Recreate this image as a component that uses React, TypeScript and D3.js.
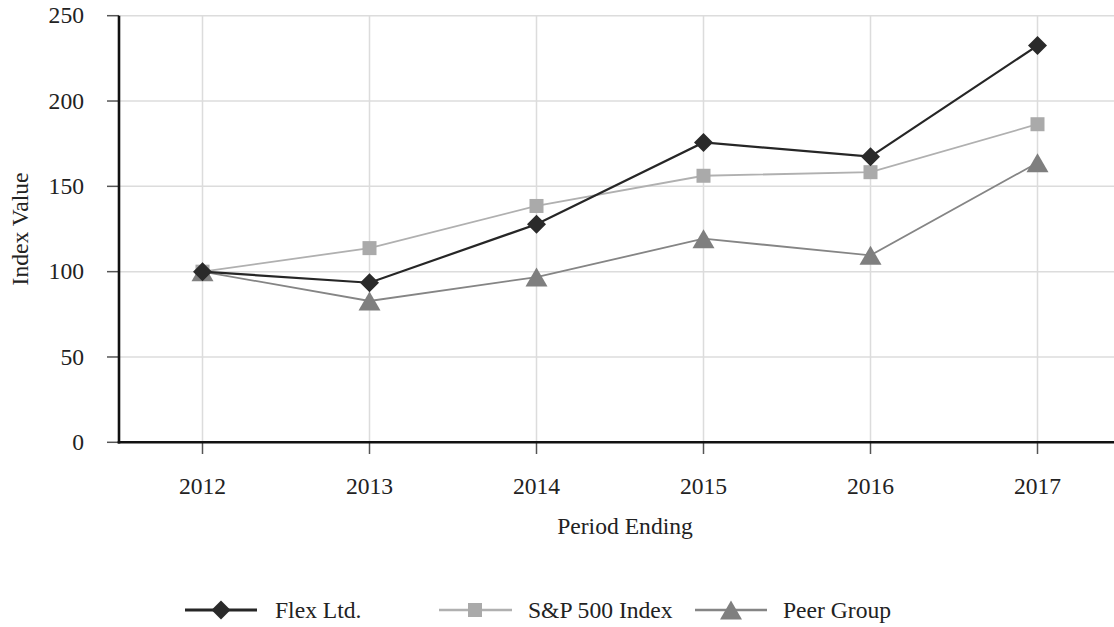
import React from "react";
import * as d3 from "d3";

const years = ["2012", "2013", "2014", "2015", "2016", "2017"];
const flexValues = [100, 93.5, 127.8, 175.7, 167.4, 232.5];
const spValues = [100, 113.8, 138.5, 156.2, 158.3, 186.4];
const peerValues = [100, 82.8, 96.8, 119.3, 109.6, 163.8];
const yTicks = [0, 50, 100, 150, 200, 250];
const seriesNames = ["Flex Ltd.", "S&P 500 Index", "Peer Group"];

const W = 1114;
const H = 627;
const FONT = "Liberation Serif, Times New Roman, DejaVu Serif, serif";
const textStyle: React.CSSProperties = { fontFamily: FONT, fontSize: "23.6px" };

type Shape = "diamond" | "square" | "triangle";

function Marker({ x, y, shape, fill }: { x: number; y: number; shape: Shape; fill: string }) {
  if (shape === "diamond") {
    return <path d="M0,-9.5L9.5,0L0,9.5L-9.5,0Z" transform={`translate(${x},${y})`} fill={fill} />;
  }
  if (shape === "square") {
    return <rect x={x - 7} y={y - 7} width={14} height={14} fill={fill} />;
  }
  return <path d="M0,-9.5L11,9.5L-11,9.5Z" transform={`translate(${x},${y})`} fill={fill} />;
}

export default function App() {
  const left = 119;
  const right = 1121;
  const top = 15.7;
  const bottom = 442.3;

  const x = d3.scalePoint<string>().domain(years).range([left, right]).padding(0.5);
  const y = d3.scaleLinear().domain([0, 250]).range([bottom, top]);

  const series = [
    { name: seriesNames[0], values: flexValues, color: "#262626", markerColor: "#2a2a2a", width: 2.2, shape: "diamond" as Shape },
    { name: seriesNames[1], values: spValues, color: "#b0b0b0", markerColor: "#aaaaaa", width: 1.8, shape: "square" as Shape },
    { name: seriesNames[2], values: peerValues, color: "#858585", markerColor: "#7f7f7f", width: 1.8, shape: "triangle" as Shape },
  ];

  const line = d3
    .line<number>()
    .x((_, i) => x(years[i]) as number)
    .y((d) => y(d));

  const legendItems = [
    { lineX0: 185, lineX1: 257, markerX: 221, textX: 275 },
    { lineX0: 439, lineX1: 512, markerX: 475, textX: 528 },
    { lineX0: 695, lineX1: 767, markerX: 731, textX: 783 },
  ];
  const legendY = 610;

  return (
    <svg
      width={W}
      height={H}
      style={{ position: "absolute", left: 0, top: 0, background: "#fff", fontFamily: FONT }}
    >
      <rect x={0} y={0} width={W} height={H} fill="#fff" />
      {yTicks.map((t) => (
        <line key={"hg" + t} x1={left} x2={W} y1={y(t)} y2={y(t)} stroke="#dcdcdc" strokeWidth={1.5} />
      ))}
      {years.map((yr) => (
        <line key={"vg" + yr} x1={x(yr)} x2={x(yr)} y1={top} y2={bottom} stroke="#dcdcdc" strokeWidth={1.5} />
      ))}
      {yTicks.map((t) => (
        <g key={"yt" + t}>
          <line x1={107} x2={left} y1={y(t)} y2={y(t)} stroke="#555" strokeWidth={1.5} />
          <text x={84} y={y(t)} dy="0.33em" textAnchor="end" style={textStyle} fill="#222">
            {t}
          </text>
        </g>
      ))}
      {years.map((yr) => (
        <g key={"xt" + yr}>
          <line x1={x(yr)} x2={x(yr)} y1={bottom} y2={454} stroke="#555" strokeWidth={1.5} />
          <text x={x(yr)} y={494} textAnchor="middle" style={textStyle} fill="#222">
            {yr}
          </text>
        </g>
      ))}
      <line x1={left} x2={left} y1={top} y2={bottom + 1.2} stroke="#111" strokeWidth={2.6} />
      <line x1={left - 1.3} x2={W} y1={bottom} y2={bottom} stroke="#111" strokeWidth={2.6} />
      <text
        transform={`translate(28,${(top + bottom) / 2}) rotate(-90)`}
        textAnchor="middle"
        style={textStyle}
        fill="#222"
      >
        Index Value
      </text>
      <text x={625} y={534} textAnchor="middle" style={textStyle} fill="#222">
        Period Ending
      </text>
      {[1, 2, 0].map((si) => {
        const s = series[si];
        return (
          <path key={s.name} d={line(s.values) || ""} fill="none" stroke={s.color} strokeWidth={s.width} />
        );
      })}
      {[1, 2, 0].map((si) => {
        const s = series[si];
        return (
          <g key={s.name + "m"}>
            {s.values.map((v, i) => (
              <Marker key={i} x={x(years[i]) as number} y={y(v)} shape={s.shape} fill={s.markerColor} />
            ))}
          </g>
        );
      })}
      {series.map((s, i) => {
        const L = legendItems[i];
        return (
          <g key={"lg" + i}>
            <line x1={L.lineX0} x2={L.lineX1} y1={legendY} y2={legendY} stroke={s.color} strokeWidth={s.width + 0.6} />
            <Marker x={L.markerX} y={legendY} shape={s.shape} fill={s.markerColor} />
            <text x={L.textX} y={legendY} dy="0.33em" style={textStyle} fill="#222">
              {s.name}
            </text>
          </g>
        );
      })}
    </svg>
  );
}
